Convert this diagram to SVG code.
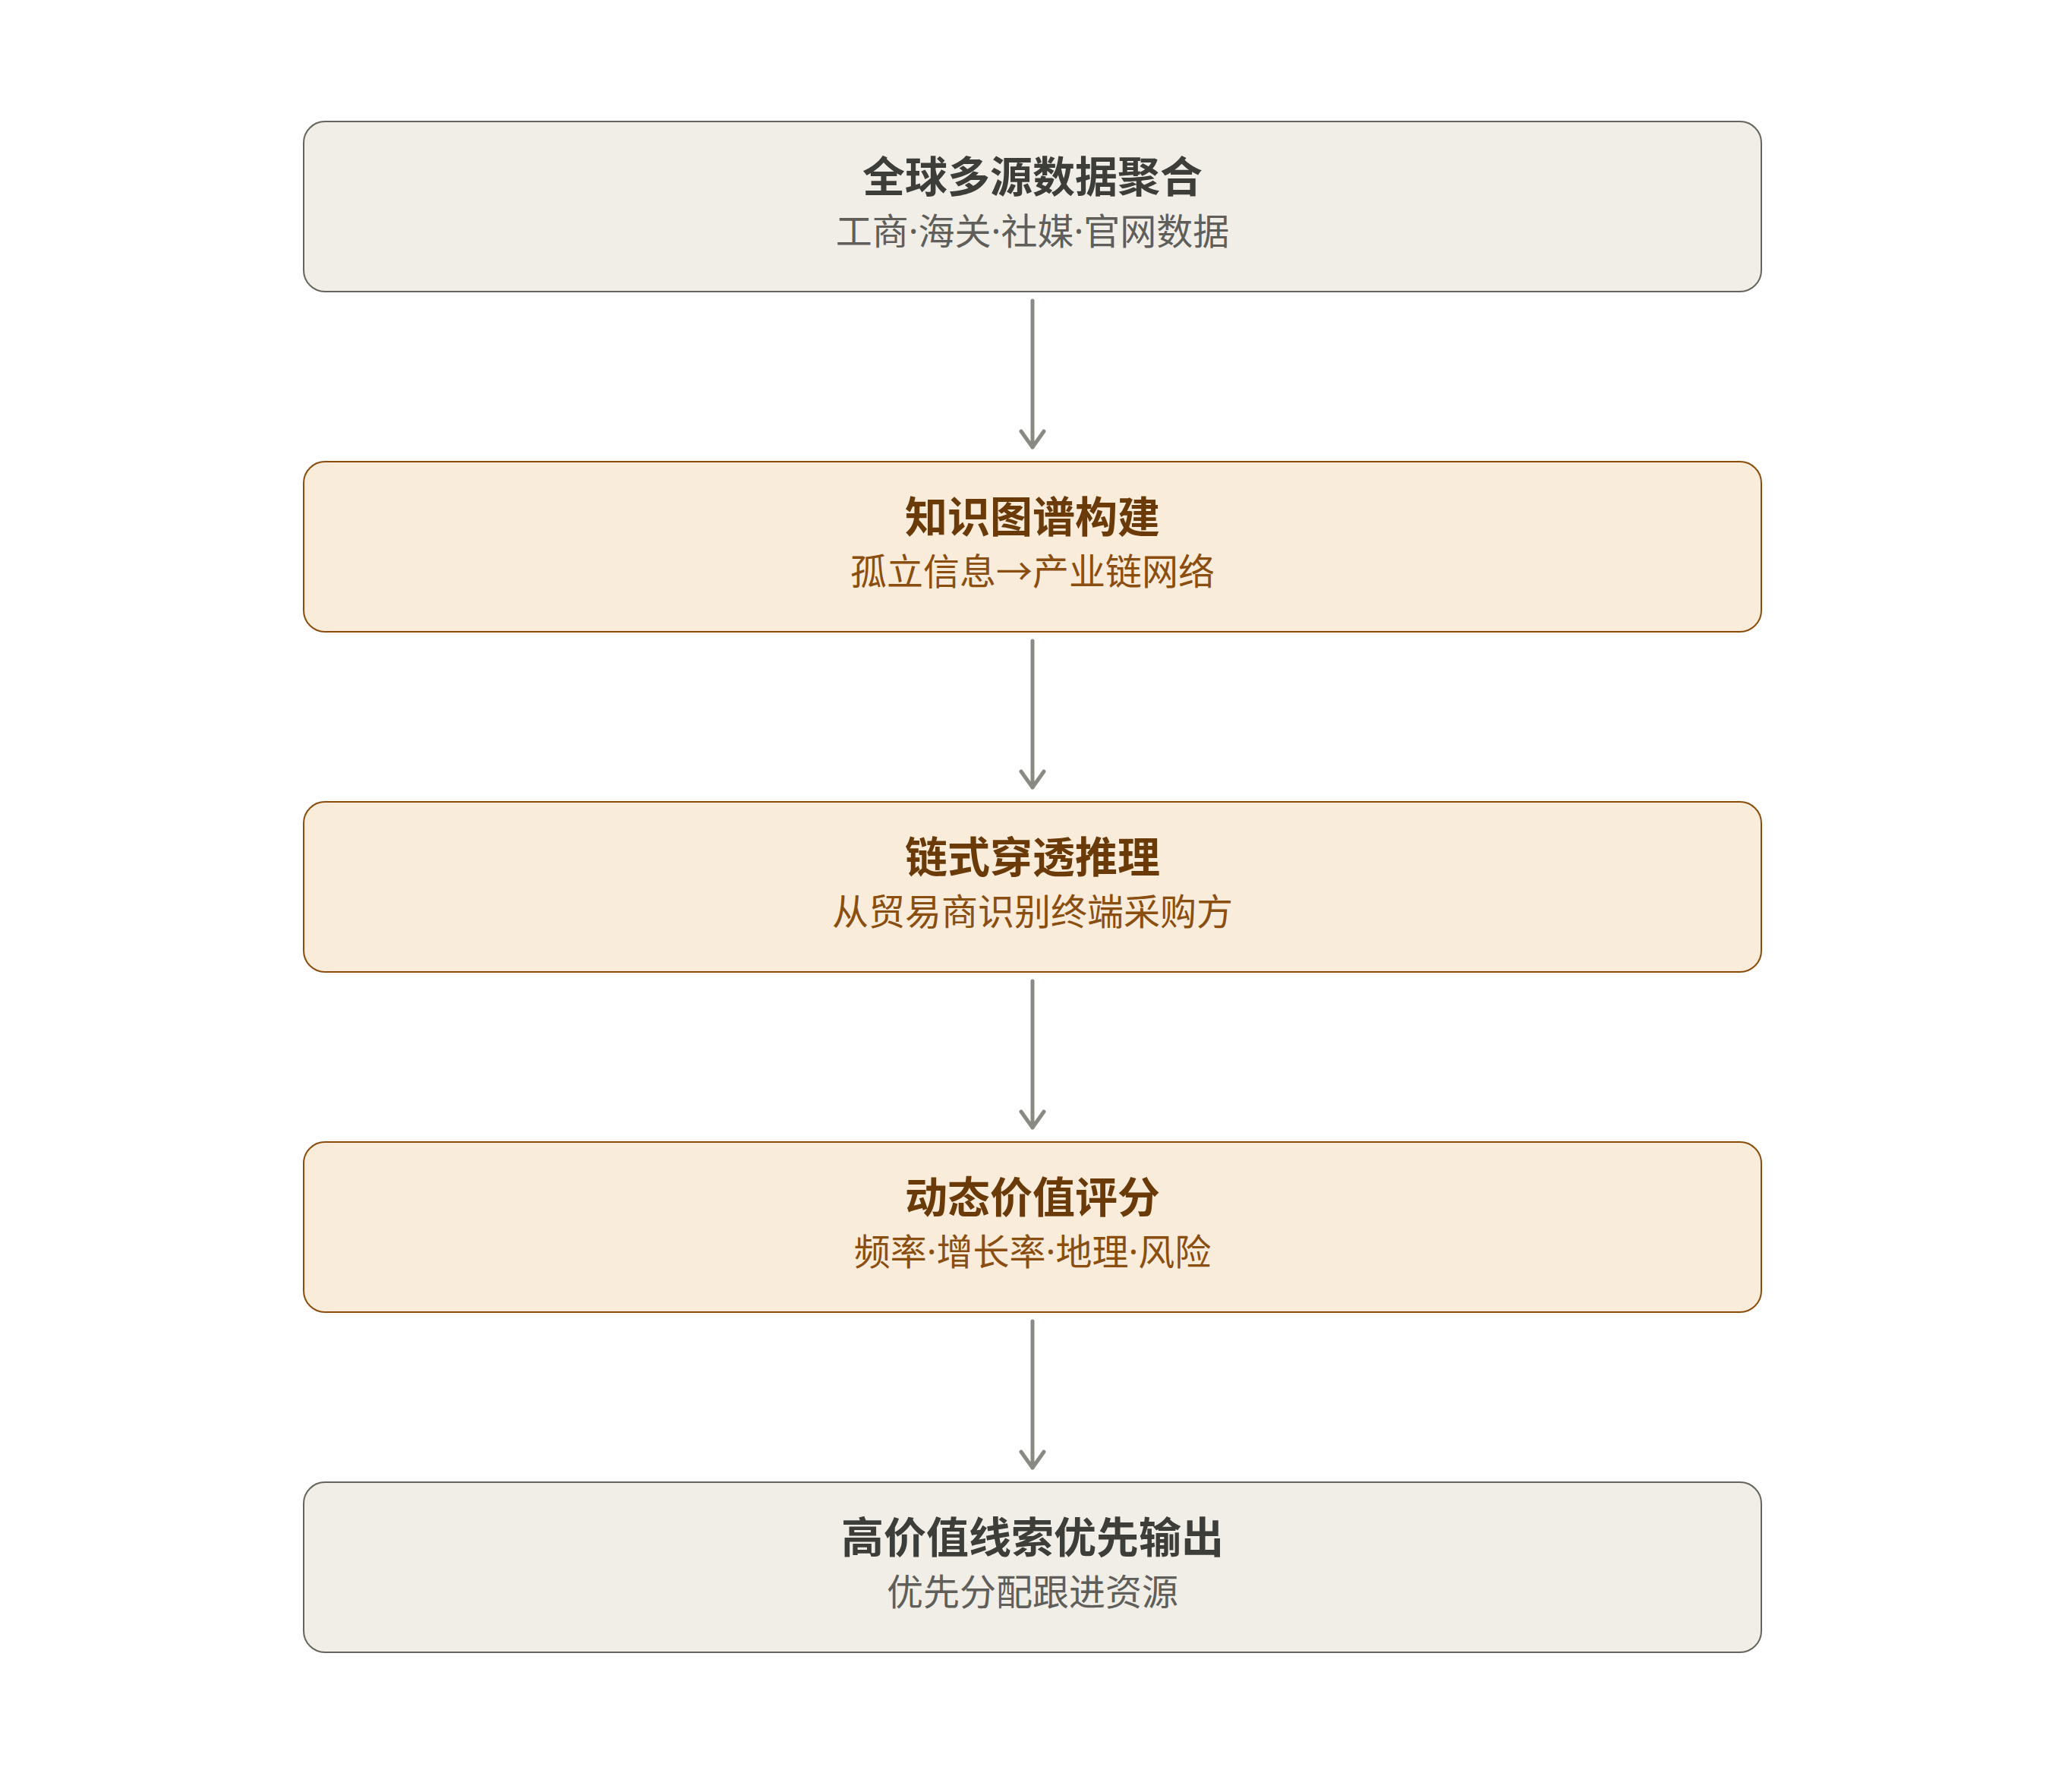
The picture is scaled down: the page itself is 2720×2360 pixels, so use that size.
<svg xmlns="http://www.w3.org/2000/svg" width="2720" height="2360" viewBox="0 0 2720 2360">
<defs>
<style>
.box rect{stroke-width:2}
.gray rect{fill:#f1eee8;stroke:#65645f}
.warm rect{fill:#faecda;stroke:#8b4c0c}
text{font-family:"Noto Sans","Noto Sans CJK SC",sans-serif;text-anchor:middle}
.t{font-size:56px;font-weight:700}
.s{font-size:48px;font-weight:400}
.ar{font-family:"Noto Sans CJK KR","Noto Sans CJK SC",sans-serif}
.gray .t{fill:#3d3d39}
.gray .s{fill:#5f5e5a}
.warm .t{fill:#6a3a08}
.warm .s{fill:#8a4f10}
.conn path{fill:none;stroke:#8a8a84;stroke-width:5;stroke-linecap:round;stroke-linejoin:round}
</style>
</defs>
<rect width="2720" height="2360" fill="#ffffff"/>
<g id="connectors" class="conn">
<path d="M1360 396V589M1345 568L1360 589L1375 568"/>
<path d="M1360 844V1037M1345 1016L1360 1037L1375 1016"/>
<path d="M1360 1292V1485M1345 1464L1360 1485L1375 1464"/>
<path d="M1360 1740V1933M1345 1912L1360 1933L1375 1912"/>
</g>
<g id="node1" class="box gray">
<rect x="400" y="160" width="1920" height="224" rx="28"/>
<text class="t" x="1360" y="253">全球多源数据聚合</text>
<text class="s" x="1360" y="322">工商·海关·社媒·官网数据</text>
</g>
<g id="node2" class="box warm">
<rect x="400" y="608" width="1920" height="224" rx="28"/>
<text class="t" x="1360" y="701">知识图谱构建</text>
<text class="s" x="1360" y="770">孤立信息<tspan class="ar">→</tspan>产业链网络</text>
</g>
<g id="node3" class="box warm">
<rect x="400" y="1056" width="1920" height="224" rx="28"/>
<text class="t" x="1360" y="1149">链式穿透推理</text>
<text class="s" x="1360" y="1218">从贸易商识别终端采购方</text>
</g>
<g id="node4" class="box warm">
<rect x="400" y="1504" width="1920" height="224" rx="28"/>
<text class="t" x="1360" y="1597">动态价值评分</text>
<text class="s" x="1360" y="1666">频率·增长率·地理·风险</text>
</g>
<g id="node5" class="box gray">
<rect x="400" y="1952" width="1920" height="224" rx="28"/>
<text class="t" x="1360" y="2045">高价值线索优先输出</text>
<text class="s" x="1360" y="2114">优先分配跟进资源</text>
</g>
</svg>
